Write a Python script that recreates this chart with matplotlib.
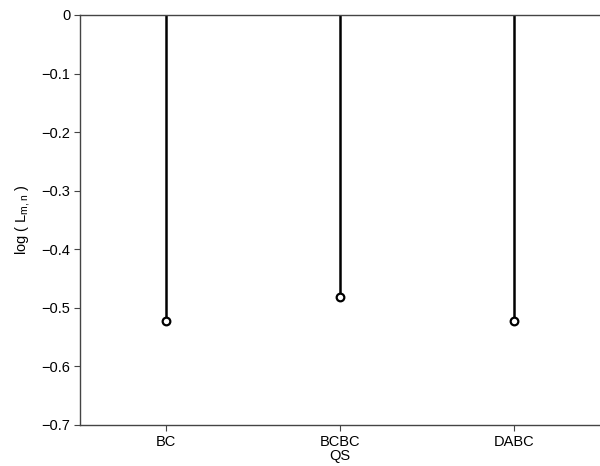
import matplotlib
matplotlib.use("Agg")
import matplotlib.pyplot as plt

# Data
categories = ["BC", "BCBC\nQS", "DABC"]
log_values = [-0.522, -0.481, -0.522]
y_ticks = [0, -0.1, -0.2, -0.3, -0.4, -0.5, -0.6, -0.7]

plt.rcParams['font.family'] = ['Liberation Sans', 'DejaVu Sans']
plt.rcParams['font.size'] = 10.5

fig = plt.figure(figsize=(6.0, 4.66), dpi=100)
ax = fig.add_axes([80 / 600, 1 - 425 / 466, 520 / 600, 410 / 466])

xs = list(range(len(categories)))
ax.vlines(xs, 0, log_values, colors="black", linewidth=1.8)
ax.plot(xs, log_values, linestyle="none", marker="o", markersize=5.5,
        markerfacecolor="white", markeredgecolor="black", markeredgewidth=1.6)

ax.set_xlim(-0.494, 2.494)
ax.set_ylim(-0.7, 0)
ax.set_xticks(xs)
ax.set_xticklabels(categories, linespacing=1.0)
ax.set_yticks(y_ticks)
ax.set_yticklabels(["0" if v == 0 else f"\u2212{abs(v):.1f}" for v in y_ticks])
ax.set_ylabel(r"log ( L$_{\mathregular{m,n}}$ )", labelpad=6)

for side in ["left", "bottom", "top"]:
    ax.spines[side].set_color("#444444")
    ax.spines[side].set_linewidth(1.0)
ax.spines["right"].set_visible(False)
ax.tick_params(direction="out", length=4, width=0.8, color="#444444", pad=3)

fig.savefig("out.png", dpi=100)
